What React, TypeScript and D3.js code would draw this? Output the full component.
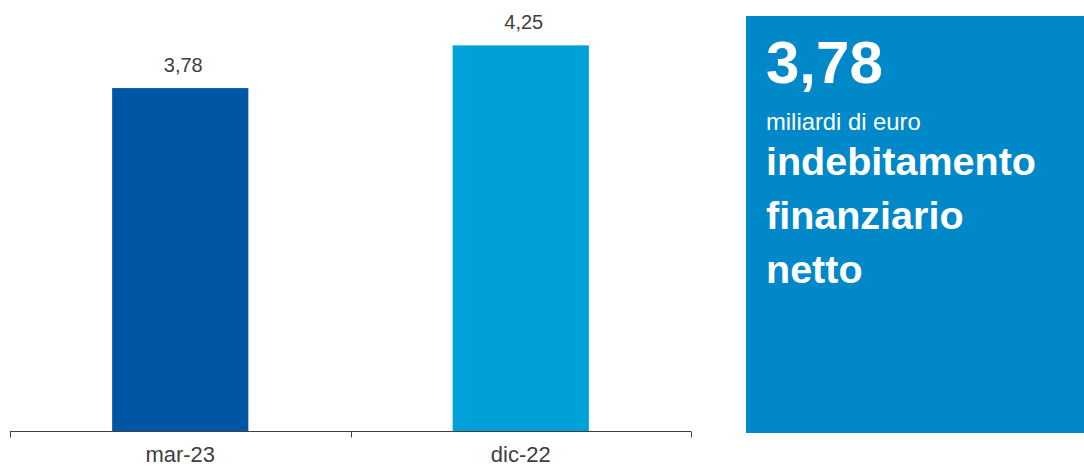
import React from "react";
import * as d3 from "d3";

// Net financial debt, billions of euro
const categories: string[] = ["mar-23", "dic-22"];
const values: number[] = [3.78, 4.25];
const barColors: string[] = ["#0055A4", "#00A0D8"];

const headlineValue = "3,78";
const headlineUnit = "miliardi di euro";
const headlineLines: string[] = ["indebitamento", "finanziario", "netto"];

const W = 1084;
const H = 468;
const FONT = "'Liberation Sans', Arial, Helvetica, sans-serif";

const fmt = (v: number) => v.toFixed(2).replace(".", ",");

export default function App() {
  const x = d3
    .scaleBand<string>()
    .domain(categories)
    .range([10, 691])
    .paddingInner(0.6)
    .paddingOuter(0.3);

  const baseY = 431.5;
  const y = d3.scaleLinear().domain([0, 4.5]).range([baseY, baseY - 4.5 * 90.85]);

  const step = x.step();
  const tickXs = d3.range(categories.length + 1).map((i) => 10 + i * step);

  return (
    <div style={{ position: "absolute", left: 0, top: 0 }}>
      <svg width={W} height={H} style={{ display: "block", background: "#fff" }}>
        {/* bars */}
        {categories.map((c, i) => (
          <rect
            key={c}
            x={x(c)}
            y={y(values[i])}
            width={x.bandwidth()}
            height={y(0) - y(values[i])}
            fill={barColors[i]}
          />
        ))}
        {/* value labels */}
        {categories.map((c, i) => (
          <text
            key={c + "-v"}
            x={(x(c) as number) + x.bandwidth() / 2 + 3}
            y={y(values[i]) - 16}
            textAnchor="middle"
            fontFamily={FONT}
            fontSize={20}
            fill="#404040"
          >
            {fmt(values[i])}
          </text>
        ))}
        {/* category axis */}
        <line x1={10} x2={691} y1={baseY} y2={baseY} stroke="#404040" strokeWidth={1} />
        {tickXs.map((tx, i) => (
          <line
            key={"t" + i}
            x1={Math.round(tx) + 0.5}
            x2={Math.round(tx) + 0.5}
            y1={baseY}
            y2={baseY + 6}
            stroke="#404040"
            strokeWidth={1}
          />
        ))}
        {categories.map((c) => (
          <text
            key={c + "-l"}
            x={(x(c) as number) + x.bandwidth() / 2}
            y={462}
            textAnchor="middle"
            fontFamily={FONT}
            fontSize={22}
            fill="#404040"
          >
            {c}
          </text>
        ))}
        {/* headline panel */}
        <rect x={746} y={16} width={W - 746} height={417} fill="#0088C8" />
        <text x={766} y={83} fontFamily={FONT} fontSize={60} fontWeight="bold" fill="#fff">
          {headlineValue}
        </text>
        <text x={766} y={130} fontFamily={FONT} fontSize={23.8} fill="#fff">
          {headlineUnit}
        </text>
        {headlineLines.map((t, i) => (
          <text
            key={t}
            x={766}
            y={175 + i * 54}
            fontFamily={FONT}
            fontSize={39.5}
            fontWeight="bold"
            fill="#fff"
          >
            {t}
          </text>
        ))}
      </svg>
    </div>
  );
}
